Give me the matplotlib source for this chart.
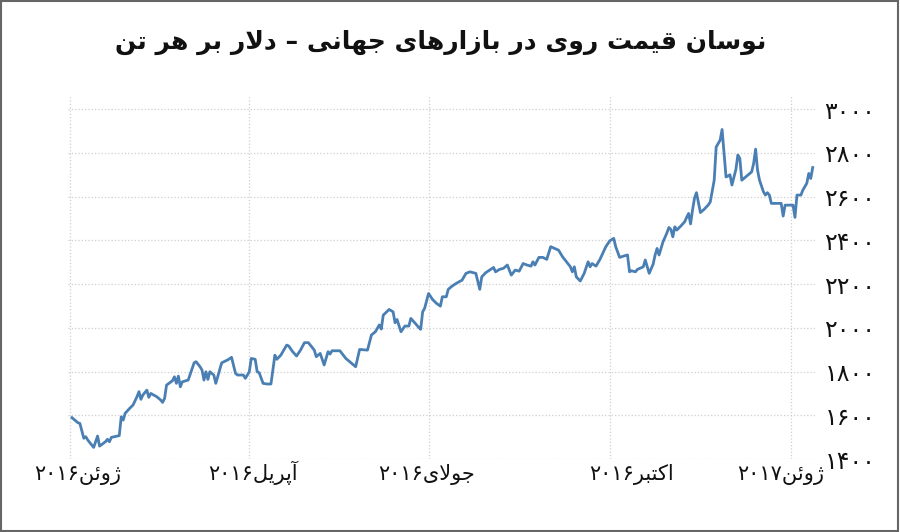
import re
import matplotlib
matplotlib.use('Agg')
import matplotlib.pyplot as plt
import matplotlib.transforms as mtransforms
from matplotlib.patches import Rectangle

plt.rcParams['font.family'] = ['DejaVu Sans']

title = 'نوسان قیمت روی در بازارهای جهانی – دلار بر هر تن'

# days since 2016-01-01 and zinc price (USD / ton)
days = [1, 4, 5, 7, 8, 9, 12, 14, 15, 18, 19, 20, 21, 24, 25, 26, 27, 28, 30, 32, 34, 35, 36, 37, 39, 40, 41, 44, 46, 47, 48, 49, 52, 53, 54, 55, 56, 57, 60, 63, 64, 66, 67, 68, 69, 70, 71,
        73, 74, 77, 80, 82, 84, 85, 88, 89, 91, 92, 94, 95, 96, 98, 100, 102, 104, 105, 107, 110, 111, 113, 115, 117, 119, 121, 124, 125, 127, 129, 131, 132, 133, 137, 140, 142,
        145, 147, 151, 153, 155, 157, 158, 159, 162, 164, 165, 166, 168, 170, 172, 173, 175, 177, 178, 179, 180, 182, 184, 186, 188, 189, 191, 192, 194, 196, 199, 201, 203, 206, 208, 209, 211, 213,
        215, 216, 218, 220, 222, 224, 226, 228, 230, 232, 234, 235, 236, 238, 240, 242, 244, 246, 248, 250, 252, 254, 255, 256, 257, 259, 261, 263, 264, 265, 267, 269, 272, 274, 276, 277, 279, 281, 283, 284,
        285, 287, 288, 291, 292, 294, 296, 297, 298, 299, 301, 303, 304, 305, 306, 307, 308, 310, 312, 313, 314, 315, 316, 317, 318, 320, 322, 324, 325, 327, 328, 330, 331, 333, 334, 335, 336, 338, 339, 340,
        341, 344, 346, 347, 348, 349, 350, 352, 353, 354, 355, 356, 359, 361, 362, 363, 367, 368, 369, 371, 372, 374, 375, 376, 377]
prices = [1589, 1566, 1563, 1495, 1502, 1487, 1453, 1505, 1459, 1479, 1490, 1479, 1499, 1505, 1507, 1593, 1578, 1609, 1629, 1647, 1685, 1708, 1673, 1693, 1715, 1682, 1700, 1685, 1670, 1659, 1677, 1738, 1758, 1776, 1746, 1779, 1730, 1753, 1761, 1840, 1845, 1822, 1807, 1761, 1799, 1764, 1799,
          1784, 1746, 1840, 1853, 1865, 1792, 1784, 1784, 1769, 1799, 1860, 1856, 1799, 1795, 1746, 1743, 1743, 1875, 1856, 1875, 1921, 1917, 1891, 1871, 1898, 1932, 1932, 1898, 1868, 1883, 1830, 1891, 1880, 1895, 1895, 1860, 1845,
          1822, 1901, 1898, 1967, 1982, 2013, 1994, 2058, 2084, 2073, 2023, 2038, 1982, 2008, 2008, 2043, 2023, 2002, 1993, 2073, 2089, 2157, 2130, 2112, 2099, 2142, 2142, 2176, 2191, 2203, 2218, 2249, 2256, 2249, 2176, 2233, 2252, 2264,
          2276, 2256, 2267, 2272, 2287, 2241, 2264, 2259, 2294, 2287, 2282, 2302, 2287, 2322, 2322, 2313, 2371, 2363, 2355, 2325, 2302, 2279, 2256, 2279, 2233, 2214, 2249, 2302, 2279, 2294, 2282, 2313, 2371, 2398, 2409, 2371, 2322, 2328, 2333, 2256,
          2261, 2256, 2267, 2279, 2310, 2249, 2291, 2333, 2363, 2333, 2393, 2434, 2459, 2450, 2416, 2462, 2447, 2465, 2485, 2505, 2523, 2475, 2539, 2593, 2618, 2527, 2543, 2562, 2576, 2675, 2827, 2858, 2907, 2690, 2694, 2700, 2653, 2724, 2790, 2775,
          2675, 2698, 2713, 2751, 2817, 2721, 2675, 2622, 2607, 2618, 2607, 2569, 2569, 2569, 2511, 2561, 2561, 2505, 2607, 2607, 2630, 2661, 2706, 2683, 2733]

tick_days = [0, 91, 182, 274, 366]
tick_labels = ['ژوئن۲۰۱۶', 'آپریل۲۰۱۶', 'جولای۲۰۱۶', 'اکتبر۲۰۱۶', 'ژوئن۲۰۱۷']
y_ticks = [1400, 1600, 1800, 2000, 2200, 2400, 2600, 2800, 3000]

# matplotlib has no arabic shaping, so pick presentation forms by hand
FORMS = {
    'ا': (0xFE8D, 0xFE8E), 'آ': (0xFE81, 0xFE82),
    'ب': (0xFE8F, 0xFE90, 0xFE91, 0xFE92), 'پ': (0xFB56, 0xFB57, 0xFB58, 0xFB59),
    'ت': (0xFE95, 0xFE96, 0xFE97, 0xFE98), 'ج': (0xFE9D, 0xFE9E, 0xFE9F, 0xFEA0),
    'د': (0xFEA9, 0xFEAA), 'ر': (0xFEAD, 0xFEAE), 'ز': (0xFEAF, 0xFEB0), 'ژ': (0xFB8A, 0xFB8B),
    'س': (0xFEB1, 0xFEB2, 0xFEB3, 0xFEB4), 'ق': (0xFED5, 0xFED6, 0xFED7, 0xFED8),
    'ک': (0xFB8E, 0xFB8F, 0xFB90, 0xFB91), 'ل': (0xFEDD, 0xFEDE, 0xFEDF, 0xFEE0),
    'م': (0xFEE1, 0xFEE2, 0xFEE3, 0xFEE4), 'ن': (0xFEE5, 0xFEE6, 0xFEE7, 0xFEE8),
    'ه': (0xFEE9, 0xFEEA, 0xFEEB, 0xFEEC), 'و': (0xFEED, 0xFEEE),
    'ی': (0xFBFC, 0xFBFD, 0xFBFE, 0xFBFF), 'ئ': (0xFE89, 0xFE8A, 0xFE8B, 0xFE8C),
}
LAM_ALEF = {'ا': (0xFEFB, 0xFEFC), 'آ': (0xFEF5, 0xFEF6)}


def shape(text):
    out = []
    i = 0
    while i < len(text):
        c = text[i]
        if c not in FORMS:
            out.append(c)
            i += 1
            continue
        prev = text[i - 1] if i > 0 else ''
        joins_prev = prev in FORMS and len(FORMS[prev]) == 4
        if c == 'ل' and i + 1 < len(text) and text[i + 1] in LAM_ALEF:
            out.append(chr(LAM_ALEF[text[i + 1]][1 if joins_prev else 0]))
            i += 2
            continue
        nxt = text[i + 1] if i + 1 < len(text) else ''
        joins_next = len(FORMS[c]) == 4 and nxt in FORMS
        f = FORMS[c]
        if joins_prev and joins_next:
            g = f[3]
        elif joins_prev:
            g = f[1]
        elif joins_next:
            g = f[2]
        else:
            g = f[0]
        out.append(chr(g))
        i += 1
    vis = ''.join(out[::-1])
    # numbers stay left to right
    return re.sub('[۰-۹]+', lambda m: m.group()[::-1], vis)


def fa_digits(n):
    return str(n).translate(str.maketrans('0123456789', '۰۱۲۳۴۵۶۷۸۹'))


fig = plt.figure(figsize=(9, 5.32), dpi=100)
ax = fig.add_axes([0.0756, 0.1372, 0.8296, 0.6823])

ax.plot(days, prices, color='#4a7fb4', linewidth=2.0)

ax.set_xlim(-1, 378)
ax.set_ylim(1400, 3060)
ax.set_xticks(tick_days)
ax.set_xticklabels([shape(t) for t in tick_labels], fontsize=15)
ax.set_yticks(y_ticks)
ax.set_yticklabels([fa_digits(v) for v in y_ticks], fontsize=17)
ax.yaxis.tick_right()
ax.tick_params(axis='both', length=0, colors='#111111')
ax.tick_params(axis='y', pad=7)
ax.tick_params(axis='x', pad=15)
ax.grid(True, color='#cfcfcf', linestyle=':', linewidth=0.9)
for s in ax.spines.values():
    s.set_visible(False)

# labels sit a bit off their grid lines in the original
shifts = [8, 4, -2, 22, -10]
for lab, dx in zip(ax.get_xticklabels(), shifts):
    lab.set_verticalalignment('baseline')
    lab.set_transform(lab.get_transform() + mtransforms.ScaledTranslation(dx / 100, 0, fig.dpi_scale_trans))

fig.text(0.49, 0.92, shape(title), ha='center', va='center', fontsize=18,
         fontweight='bold', color='#111111')

fig.patches.append(Rectangle((0.001, 0.001), 0.997, 0.997, transform=fig.transFigure,
                             fill=False, edgecolor='#666666', linewidth=1.5))

fig.savefig('out.png', dpi=100)
